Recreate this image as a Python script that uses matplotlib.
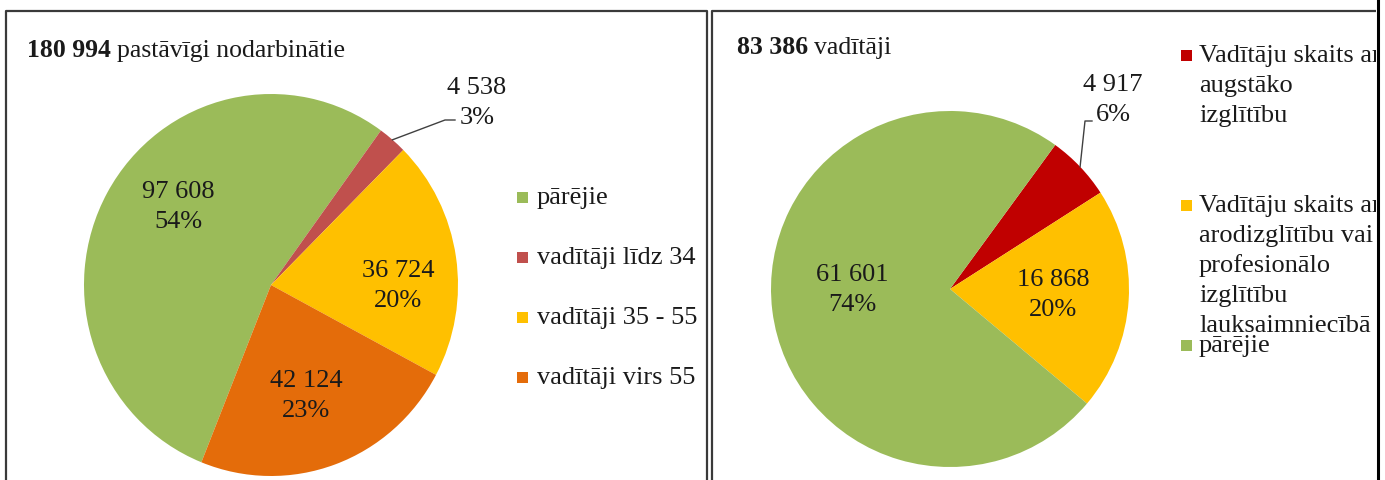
import numpy as np
import matplotlib
matplotlib.use("Agg")
import matplotlib.pyplot as plt
from matplotlib.lines import Line2D
from matplotlib.patches import Rectangle
from matplotlib.transforms import offset_copy

W, H = 1385, 481
DPI = 100

# Left chart: permanently employed, split by manager age group
left_title = "pastāvīgi nodarbinātie"
left_labels = ["pārējie", "vadītāji līdz 34", "vadītāji 35 - 55", "vadītāji virs 55"]
left_values = [97608, 4538, 36724, 42124]
left_colors = ["#9BBB59", "#C0504D", "#FFC000", "#E46C0A"]

# Right chart: managers, split by education
right_title = "vadītāji"
right_labels = [
    "Vadītāju skaits ar\naugstāko\nizglītību",
    "Vadītāju skaits ar\narodizglītību vai\nprofesionālo\nizglītību\nlauksaimniecībā",
    "pārējie",
]
right_values = [4917, 16868, 61601]
right_colors = ["#C00000", "#FFC000", "#9BBB59"]

FONT = "Liberation Serif"
FS = 19
TXT = "#1a1a1a"
plt.rcParams["font.family"] = [FONT, "DejaVu Serif"]

fig = plt.figure(figsize=(W / DPI, H / DPI), dpi=DPI)
fig.patch.set_facecolor("white")


def fx(x):
    return x / W


def fy(y):
    return 1 - y / H


def px_rect(x0, y0, x1, y1):
    return [x0 / W, 1 - y1 / H, (x1 - x0) / W, (y1 - y0) / H]


def fmt_num(v):
    return f"{v:,}".replace(",", " ")


def fig_line(xs, ys, lw=1.5, color="#3a3a3a", z=5):
    fig.add_artist(Line2D([fx(x) for x in xs], [fy(y) for y in ys],
                          transform=fig.transFigure, lw=lw, color=color,
                          zorder=z, solid_capstyle="butt"))


def draw_pie(values, colors, center, rx, ry, startangle, label_px, callout_px):
    """Pie inside an axes box of 2*rx by 2*ry pixels; label/callout
    positions are given in pixels and converted to the pie's data units."""
    cx, cy = center
    ax = fig.add_axes(px_rect(cx - rx, cy - ry, cx + rx, cy + ry))
    wedges, _ = ax.pie(values, colors=colors, startangle=startangle,
                       counterclock=False, radius=1,
                       wedgeprops=dict(linewidth=0))
    ax.set_aspect("auto")
    ax.set_xlim(-1, 1)
    ax.set_ylim(-1, 1)
    ax.axis("off")

    def to_data(px, py):
        return (px - cx) / rx, (cy - py) / ry

    top = offset_copy(ax.transData, fig=fig, x=0, y=6 * 72 / DPI, units="points")
    bot = offset_copy(ax.transData, fig=fig, x=0, y=-24 * 72 / DPI, units="points")
    total = sum(values)
    for i, (v, w) in enumerate(zip(values, wedges)):
        x, y = to_data(*label_px[i])
        ax.text(x, y, fmt_num(v), transform=top, ha="center", va="baseline",
                fontsize=FS, color=TXT, clip_on=False)
        ax.text(x, y, f"{round(100 * v / total)}%", transform=bot, ha="center",
                va="baseline", fontsize=FS, color=TXT, clip_on=False)
        if i in callout_px:
            mid = np.deg2rad((w.theta1 + w.theta2) / 2)
            (ex, ey), (hx, _) = [to_data(*p) for p in callout_px[i]]
            ax.plot([np.cos(mid), ex, hx], [np.sin(mid), ey, ey],
                    color="#404040", lw=1.0, clip_on=False)
    return ax


def title(x, baseline, total, text):
    r = fig.canvas.get_renderer()
    t = fig.text(fx(x), fy(baseline), fmt_num(total), fontsize=FS - 0.5,
                 fontweight="bold", color=TXT, va="baseline", ha="left")
    bb = t.get_window_extent(renderer=r)
    fig.text(bb.x1 / W + 6 / W, fy(baseline), text, fontsize=FS - 0.5,
             color=TXT, va="baseline", ha="left")


def legend(labels, colors, mx, tx, baselines, pitch):
    for lab, col, b in zip(labels, colors, baselines):
        fig.add_artist(Rectangle((fx(mx), fy(b)), 11 / W, 11 / H,
                                 transform=fig.transFigure, color=col, lw=0))
        for k, line in enumerate(lab.split("\n")):
            fig.text(fx(tx), fy(b + k * pitch), line, fontsize=FS, color=TXT,
                     va="baseline", ha="left")


# ---- left panel ----
fig_line([6, 6, 707, 707], [481, 12, 12, 481], lw=1.6)
title(27, 57, sum(left_values), left_title)
left_start = 54 + 360 * left_values[0] / sum(left_values)
draw_pie(left_values, left_colors, (271, 286), 187, 191, left_start,
         label_px=[(178, 204), (477, 100), (398, 283), (306, 393)],
         callout_px={1: [(445, 121), (455, 121)]})
legend(left_labels, left_colors, 517, 537, [204, 264, 324, 384], 30)

# ---- right panel ----
fig_line([712, 712, 1377], [481, 12, 12], lw=1.6)
title(737, 54, sum(right_values), right_title)
draw_pie(right_values, right_colors, (950, 290), 179, 178, 54,
         label_px=[(1113, 97), (1053, 292), (852, 287)],
         callout_px={0: [(1085, 122), (1092, 122)]})
legend(right_labels, right_colors, 1181, 1199, [62, 212, 352], 30)

# right edge of the sheet
fig.add_artist(Rectangle((fx(1376), 0), 9 / W, 1, transform=fig.transFigure,
                         color="white", lw=0, zorder=20))
fig_line([1377.5, 1377.5], [0, 481], lw=2.2, color="#000000", z=21)

fig.savefig("out.png", dpi=DPI, facecolor="white")
